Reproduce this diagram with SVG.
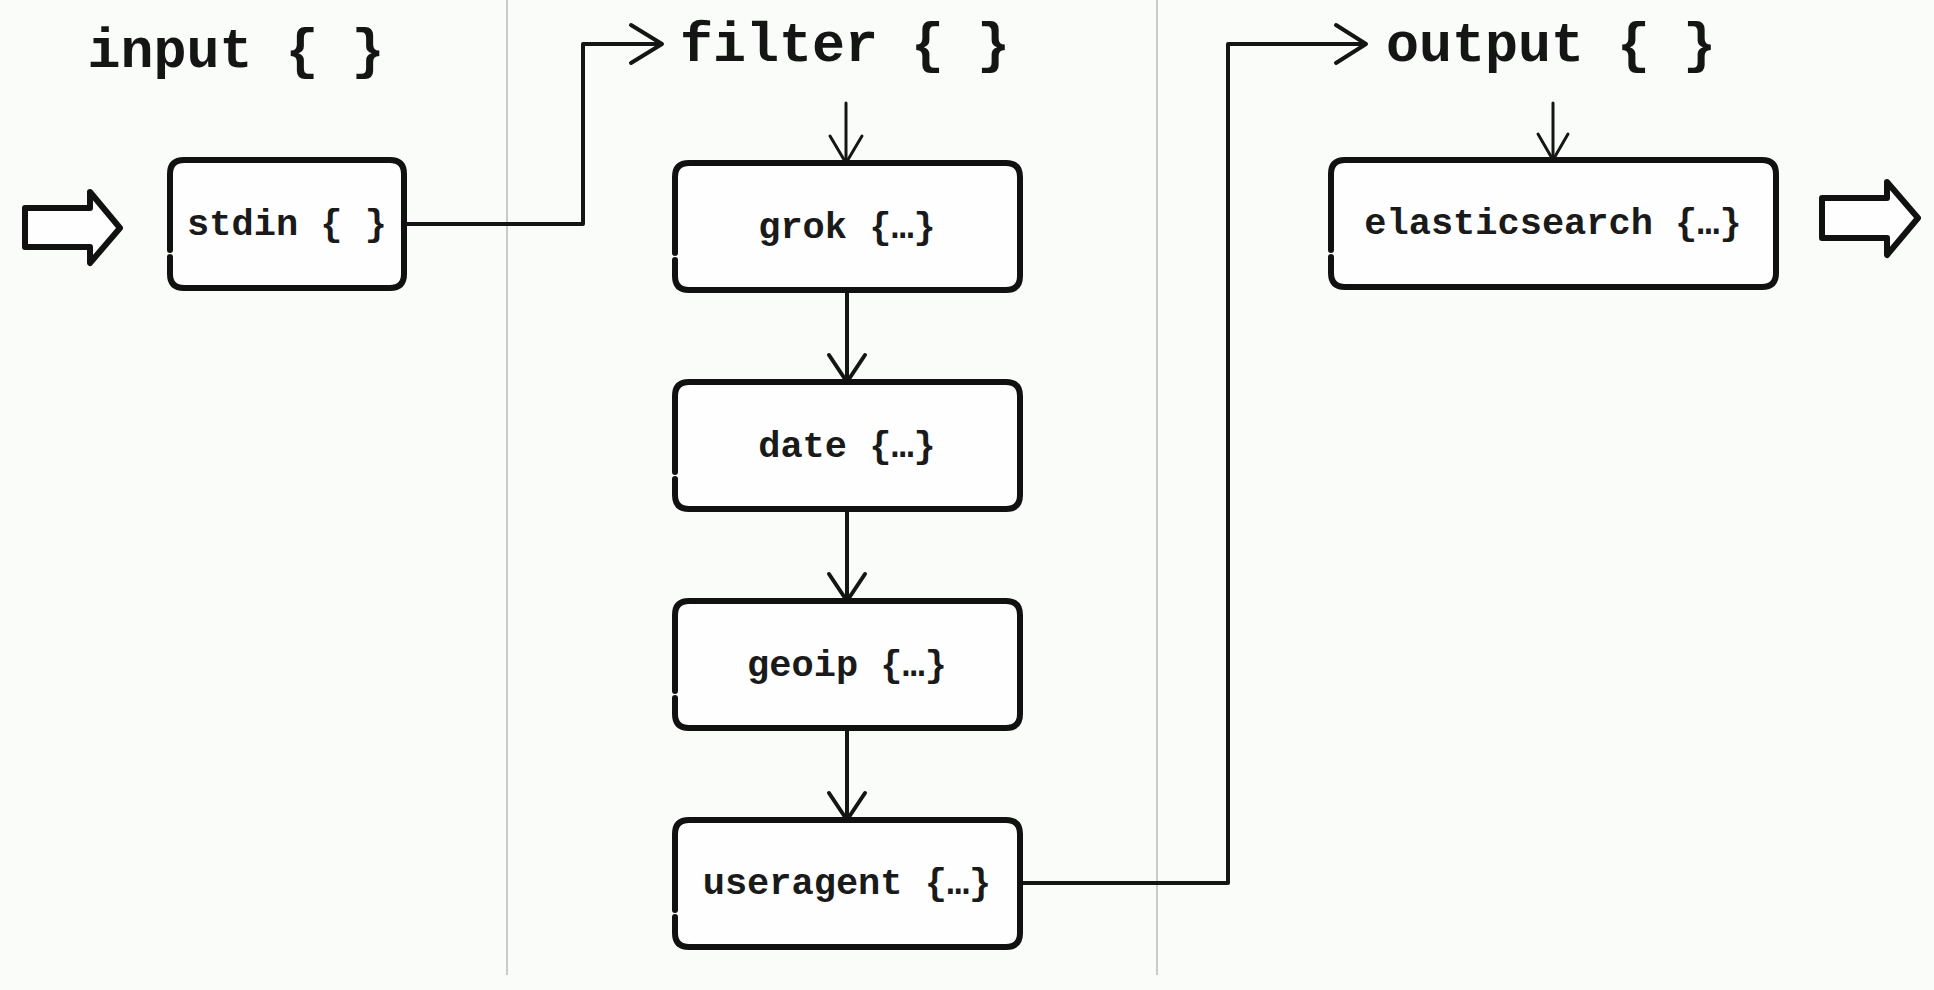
<svg xmlns="http://www.w3.org/2000/svg" width="1934" height="990" viewBox="0 0 1934 990">
<style>
.bg{fill:#fafcfa}
.sep{stroke:#c9cbc9;stroke-width:2;fill:none}
.title{font-family:"Liberation Mono","Courier New",monospace;font-weight:bold;font-size:55px;fill:#151515;text-anchor:middle}
.lbl{font-family:"Liberation Mono","Courier New",monospace;font-weight:bold;font-size:37px;fill:#1a1a1a;text-anchor:middle}
.box{fill:#fdfefd;stroke:#111;stroke-width:6;stroke-linejoin:round;stroke-linecap:round}
.con{fill:none;stroke:#151515;stroke-width:4;stroke-linejoin:round;stroke-linecap:round}
.thin{fill:none;stroke:#151515;stroke-width:3;stroke-linejoin:round;stroke-linecap:round}
.block{fill:#fdfefd;stroke:#111;stroke-width:6;stroke-linejoin:round}
</style>
<rect class="bg" x="0" y="0" width="1934" height="990"/>
<g id="separators">
<line class="sep" x1="507" y1="0" x2="507" y2="975"/>
<line class="sep" x1="1157" y1="0" x2="1157" y2="975"/>
</g>
<g id="titles">
<text class="title" x="236" y="67">input { }</text>
<text class="title" x="845" y="61">filter { }</text>
<text class="title" x="1551" y="61">output { }</text>
</g>
<g id="connectors">
<polygon id="in-arrow" class="block" points="25,208 90,208 90,192 120,228 90,263 90,247 25,247"/>
<polygon id="out-arrow" class="block" points="1822,198 1887,198 1887,182 1918,218 1887,255 1887,238 1822,238"/>
<path class="con" d="M404,224 H583 V44 H660"/>
<polyline class="con" points="631,25 662,44 631,63"/>
<path class="thin" d="M846,103 V161"/>
<polyline class="thin" points="830,136 846,163 862,136"/>
<path class="con" d="M847,290 V380"/>
<polyline class="con" points="829,355 847,382 865,355"/>
<path class="con" d="M847,509 V599"/>
<polyline class="con" points="829,574 847,601 865,574"/>
<path class="con" d="M847,728 V818"/>
<polyline class="con" points="829,793 847,820 865,793"/>
<path class="con" d="M1020,883 H1228 V44 H1364"/>
<polyline class="con" points="1336,25 1366,44 1336,63"/>
<path class="thin" d="M1553,103 V158"/>
<polyline class="thin" points="1538,134 1553,160 1568,134"/>
</g>
<g id="stdin">
<path class="box" d="M170,257 V274 Q170,288 184,288 H390 Q404,288 404,274 V174 Q404,160 390,160 H184 Q170,160 170,174 V250"/>
<text class="lbl" x="287" y="235">stdin { }</text>
</g>
<g id="grok">
<path class="box" d="M675,260 V276 Q675,290 689,290 H1006 Q1020,290 1020,276 V177 Q1020,163 1006,163 H689 Q675,163 675,177 V253"/>
<text class="lbl" x="847" y="238">grok {…}</text>
</g>
<g id="date">
<path class="box" d="M675,479 V495 Q675,509 689,509 H1006 Q1020,509 1020,495 V396 Q1020,382 1006,382 H689 Q675,382 675,396 V472"/>
<text class="lbl" x="847" y="457">date {…}</text>
</g>
<g id="geoip">
<path class="box" d="M675,698 V714 Q675,728 689,728 H1006 Q1020,728 1020,714 V615 Q1020,601 1006,601 H689 Q675,601 675,615 V691"/>
<text class="lbl" x="847" y="676">geoip {…}</text>
</g>
<g id="useragent">
<path class="box" d="M675,917 V933 Q675,947 689,947 H1006 Q1020,947 1020,933 V834 Q1020,820 1006,820 H689 Q675,820 675,834 V910"/>
<text class="lbl" x="847" y="894">useragent {…}</text>
</g>
<g id="elasticsearch">
<path class="box" d="M1331,257 V273 Q1331,287 1345,287 H1762 Q1776,287 1776,273 V174 Q1776,160 1762,160 H1345 Q1331,160 1331,174 V250"/>
<text class="lbl" x="1553" y="234">elasticsearch {…}</text>
</g>
</svg>
